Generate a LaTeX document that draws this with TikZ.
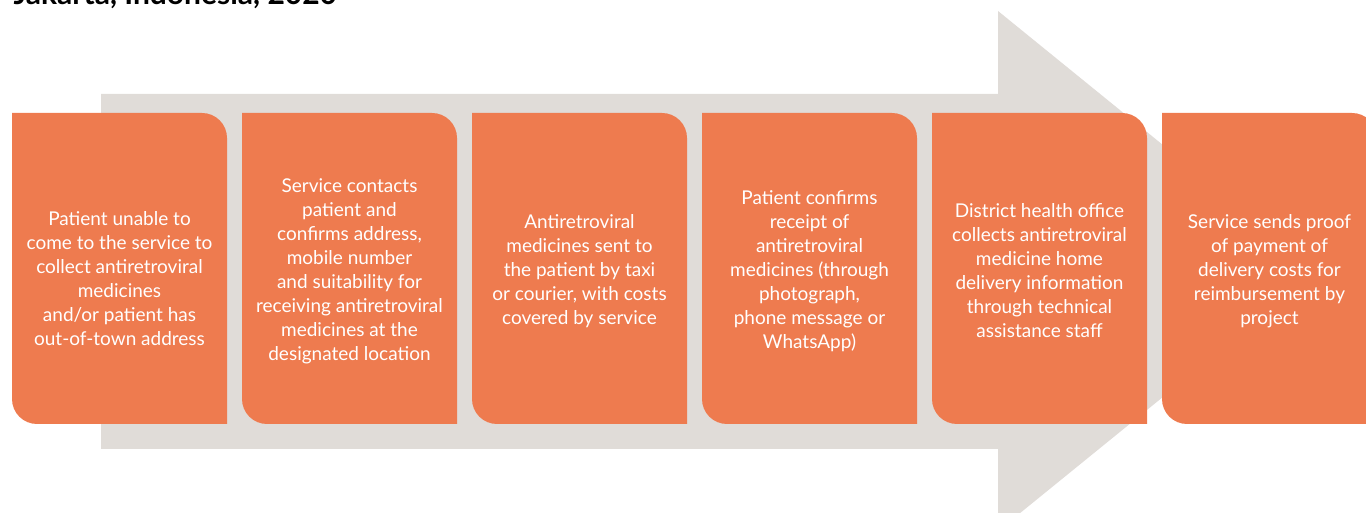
\documentclass[tikz,border=0pt]{standalone}
\usepackage{fontspec}
\setmainfont{Lato}
\usepackage{tikz}
\usetikzlibrary{positioning}
\definecolor{stepfill}{HTML}{EE7B4F}
\definecolor{arrowgray}{HTML}{E0DCD8}
\begin{document}
\begin{tikzpicture}[x=1pt,y=1pt,
  steptext/.style={text=white,align=center,inner sep=0pt,
    font=\fontsize{19}{24}\selectfont}]
 % 1. Frame of the figure (title is cut at the top)
  \useasboundingbox (0,0) rectangle (1366,513);
  \clip (0,0) rectangle (1366,513);
  \node[anchor=base west,font=\bfseries\fontsize{30}{30}\selectfont]
    (title) at (10,508) {Jakarta, Indonesia, 2020};
  % 2. The big grey arrow behind the steps
  \fill[arrowgray] (101,64) -- (998,64) -- (998,-18) -- (1318,242)
    -- (998,502) -- (998,419) -- (101,419) -- cycle;
  % 3. Orange boxes, rounded top right and bottom left
  \foreach \i in {0,...,5}{
    \pgfmathsetmacro{\xl}{12+230*\i}
    \fill[stepfill] (\xl,400) -- (\xl+190,400)
      arc[start angle=90,end angle=0,radius=25] -- (\xl+215,89)
      -- (\xl+25,89) arc[start angle=270,end angle=180,radius=25] -- cycle;
  }
  % 4. Step texts
  \node[steptext] (s1) at (119.5,234) {Patient unable to\\come to the service to\\collect antiretroviral\\medicines\\and/or patient has\\out-of-town address};
  \node[steptext] (s2) at (349.5,242) {Service contacts\\patient and\\confirms address,\\mobile number\\and suitability for\\receiving antiretroviral\\medicines at the\\designated location};
  \node[steptext] (s3) at (579.5,242) {Antiretroviral\\medicines sent to\\the patient by taxi\\or courier, with costs\\covered by service};
  \node[steptext] (s4) at (809.5,242) {Patient confirms\\receipt of\\antiretroviral\\medicines (through\\photograph,\\phone message or\\WhatsApp)};
  \node[steptext] (s5) at (1039.5,242) {District health office\\collects antiretroviral\\medicine home\\delivery information\\through technical\\assistance staff};
  \node[steptext] (s6) at (1269.5,242) {Service sends proof\\of payment of\\delivery costs for\\reimbursement by\\project};
\end{tikzpicture}
\end{document}
